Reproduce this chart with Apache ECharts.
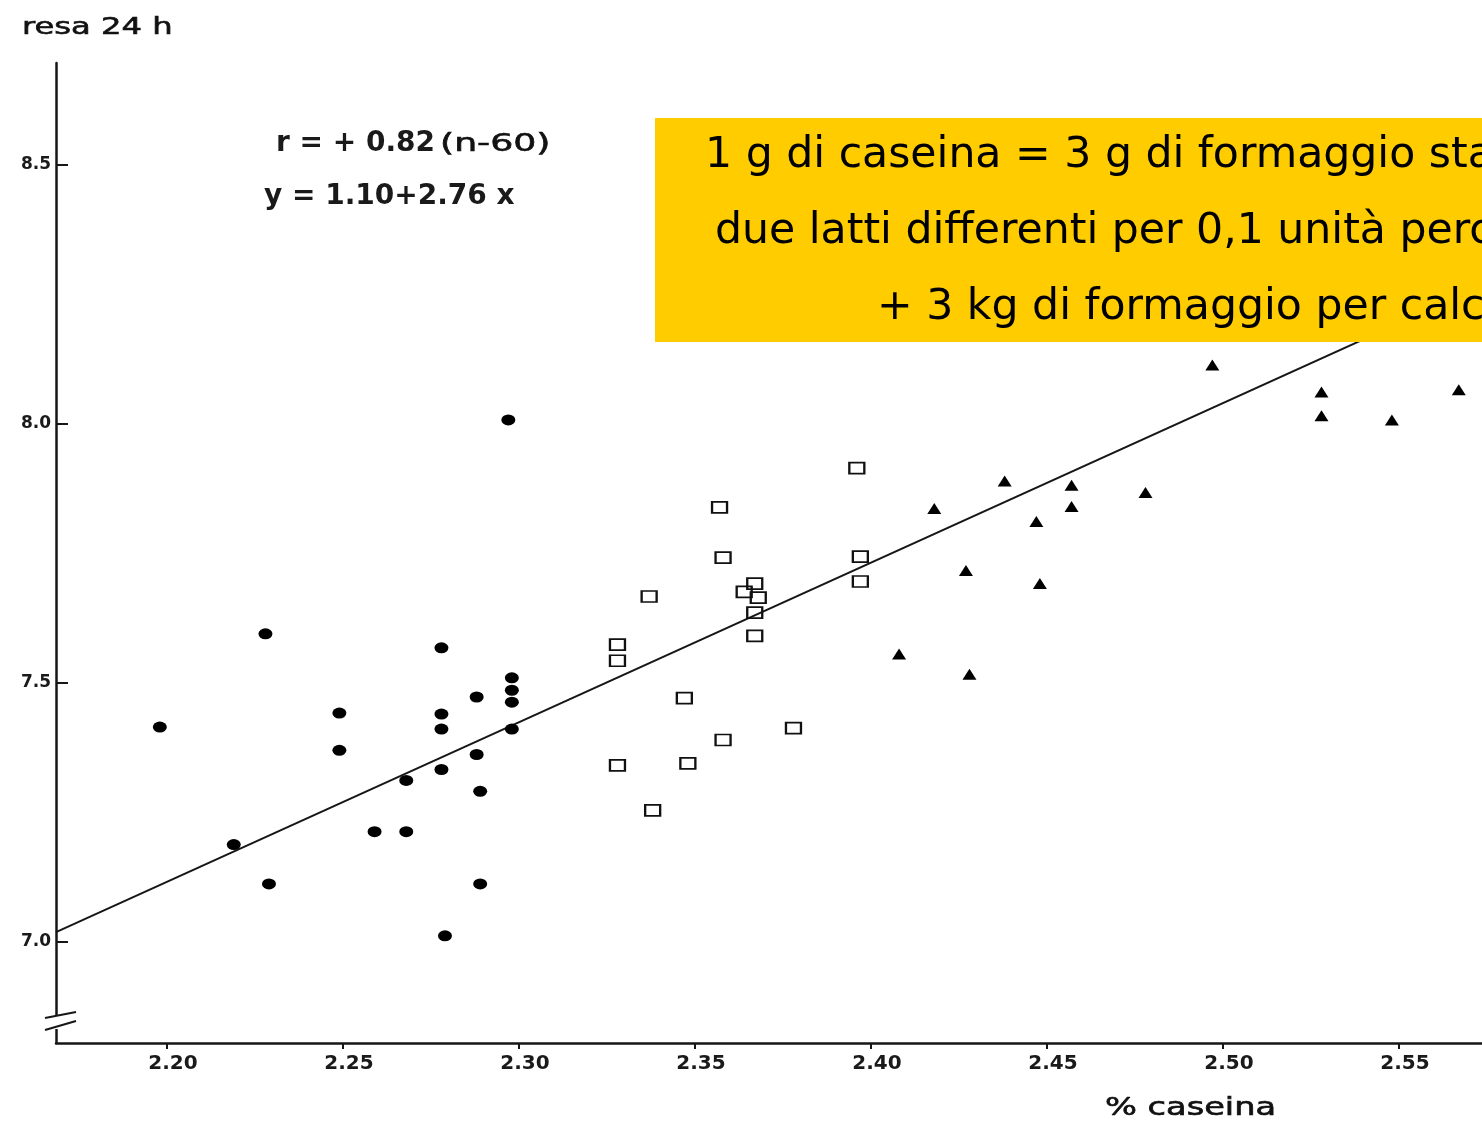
<!DOCTYPE html>
<html>
<head>
<meta charset="utf-8">
<script src="https://cdn.jsdelivr.net/npm/echarts@6/dist/echarts.min.js"></script>
<style>
html,body{margin:0;padding:0;background:#fff;}
#c{width:1482px;height:1123px;}
</style>
</head>
<body>
<div id="c"></div>
<script>
// ---- data ----
const xTicks = [2.20, 2.25, 2.30, 2.35, 2.40, 2.45, 2.50, 2.55];
const yTicks = [7.0, 7.5, 8.0, 8.5];
const xRange = [2.1685, 2.5736];
const yRange = [6.805, 8.697];

const circleX = [2.198,2.219,2.228,2.229,2.249,2.249,2.259,2.268,2.268,2.278,2.278,2.278,2.278,2.279,2.288,2.288,2.289,2.289,2.297,2.298,2.298,2.298,2.298];
const circleY = [7.415,7.188,7.595,7.112,7.442,7.370,7.213,7.213,7.312,7.568,7.440,7.411,7.333,7.012,7.473,7.362,7.291,7.112,8.008,7.510,7.486,7.463,7.411];

const squareX = [2.396,2.357,2.358,2.337,2.367,2.364,2.368,2.367,2.367,2.397,2.397,2.328,2.328,2.347,2.378,2.358,2.328,2.348,2.338];
const squareY = [7.915,7.839,7.742,7.667,7.692,7.676,7.665,7.636,7.591,7.744,7.696,7.574,7.543,7.471,7.413,7.390,7.341,7.345,7.254];

const triangleX = [2.497,2.528,2.528,2.548,2.567,2.418,2.438,2.457,2.457,2.447,2.478,2.427,2.448,2.408,2.428];
const triangleY = [8.114,8.062,8.016,8.008,8.066,7.837,7.890,7.882,7.841,7.812,7.868,7.717,7.692,7.556,7.517];

const regX = [2.1685, 2.5736];
const regY = [7.019, 8.267];

const yLabel = 'resa 24 h';
const xLabel = '% caseina';
const statR = 'r = + 0.82';
const statN = '(n-60)';
const statEq = 'y = 1.10+2.76 x';
const boxLines = [
  '1 g di caseina = 3 g di formaggio sta',
  'due latti differenti per 0,1 unità perc',
  '+ 3 kg di formaggio per calc'
];

const zip = (xs, ys) => xs.map((x, i) => [x, ys[i]]);

const chart = echarts.init(document.getElementById('c'), null, {renderer: 'canvas'});

const ink = '#161616';

chart.setOption({
  animation: false,
  backgroundColor: '#ffffff',
  grid: {left: 56, right: 0, top: 63, bottom: 80, containLabel: false},
  xAxis: {
    type: 'value', min: xRange[0], max: xRange[1],
    axisLine: {show: true, onZero: false, lineStyle: {color: ink, width: 2.5}},
    axisTick: {show: true, customValues: xTicks, length: 6, lineStyle: {color: ink, width: 2}},
    axisLabel: {
      customValues: xTicks, formatter: v => v.toFixed(2),
      fontFamily: '"DejaVu Sans"', fontWeight: 'bold', fontSize: 20, color: '#1a1a1a',
      margin: 11, padding: [0, 0, 0, 12]
    },
    splitLine: {show: false}
  },
  yAxis: {
    type: 'value', min: yRange[0], max: yRange[1],
    axisLine: {show: true, onZero: false, lineStyle: {color: ink, width: 2.5}},
    axisTick: {show: true, inside: true, customValues: yTicks, length: 12, lineStyle: {color: ink, width: 2}},
    axisLabel: {
      customValues: yTicks, formatter: v => v.toFixed(1),
      fontFamily: '"DejaVu Sans"', fontWeight: 'bold', fontSize: 17, color: '#1a1a1a',
      margin: 5
    },
    splitLine: {show: false}
  },
  series: [
    {
      type: 'line', data: zip(regX, regY), symbol: 'none', z: 1,
      lineStyle: {color: ink, width: 2}
    },
    {
      type: 'scatter', data: zip(circleX, circleY), symbol: 'circle', symbolSize: [14, 11], z: 3,
      itemStyle: {color: '#000', opacity: 1}
    },
    {
      type: 'scatter', data: zip(squareX, squareY), symbol: 'rect', symbolSize: [15, 11], z: 3,
      itemStyle: {color: 'rgba(0,0,0,0)', borderColor: '#111', borderWidth: 2, opacity: 1}
    },
    {
      type: 'scatter', data: zip(triangleX, triangleY), symbol: 'triangle', symbolSize: [14, 11], z: 3,
      itemStyle: {color: '#000', opacity: 1}
    }
  ]
});

// decorations positioned from the axes
const o = chart.convertToPixel({xAxisIndex: 0, yAxisIndex: 0}, [xRange[0], yRange[0]]);
const ox = o[0], oy = o[1];

const wideText = (text, x, y, size, scale) => ({
  type: 'text', z: 60, x: x, y: y, scaleX: scale,
  style: {text: text, font: size + 'px "DejaVu Sans"', fill: '#111', stroke: '#111', lineWidth: 0.6, verticalAlign: 'middle'}
});

chart.setOption({
  graphic: [
    // axis break
    {type: 'rect', z: 50, shape: {x: ox - 4, y: oy - 27, width: 8, height: 13}, style: {fill: '#fff'}},
    {type: 'line', z: 51, shape: {x1: ox - 11, y1: oy - 25, x2: ox + 20, y2: oy - 31}, style: {stroke: ink, lineWidth: 2}},
    {type: 'line', z: 51, shape: {x1: ox - 11, y1: oy - 13, x2: ox + 20, y2: oy - 22}, style: {stroke: ink, lineWidth: 2}},
    // axis titles
    wideText(yLabel, 22, 28, 23, 1.4),
    wideText(xLabel, 1105, 1109, 24, 1.4),
    // statistics
    {type: 'text', z: 60, x: 276, y: 144,
      style: {text: statR, font: 'bold 28px "DejaVu Sans"', fill: '#1a1a1a', verticalAlign: 'middle'}},
    wideText(statN, 440, 144, 25, 1.45),
    {type: 'text', z: 60, x: 264, y: 197,
      style: {text: statEq, font: 'bold 28px "DejaVu Sans"', fill: '#1a1a1a', verticalAlign: 'middle'}},
    // yellow box
    {type: 'rect', z: 100, shape: {x: 655, y: 118, width: 840, height: 224}, style: {fill: '#FFCC00'}},
    {type: 'text', z: 101, x: 705, y: 156,
      style: {text: boxLines[0], font: '42.6px "DejaVu Sans"', fill: '#000', verticalAlign: 'middle'}},
    {type: 'text', z: 101, x: 715, y: 232,
      style: {text: boxLines[1], font: '42.6px "DejaVu Sans"', fill: '#000', verticalAlign: 'middle'}},
    {type: 'text', z: 101, x: 877, y: 308,
      style: {text: boxLines[2], font: '42.6px "DejaVu Sans"', fill: '#000', verticalAlign: 'middle'}}
  ]
});
</script>
</body>
</html>
